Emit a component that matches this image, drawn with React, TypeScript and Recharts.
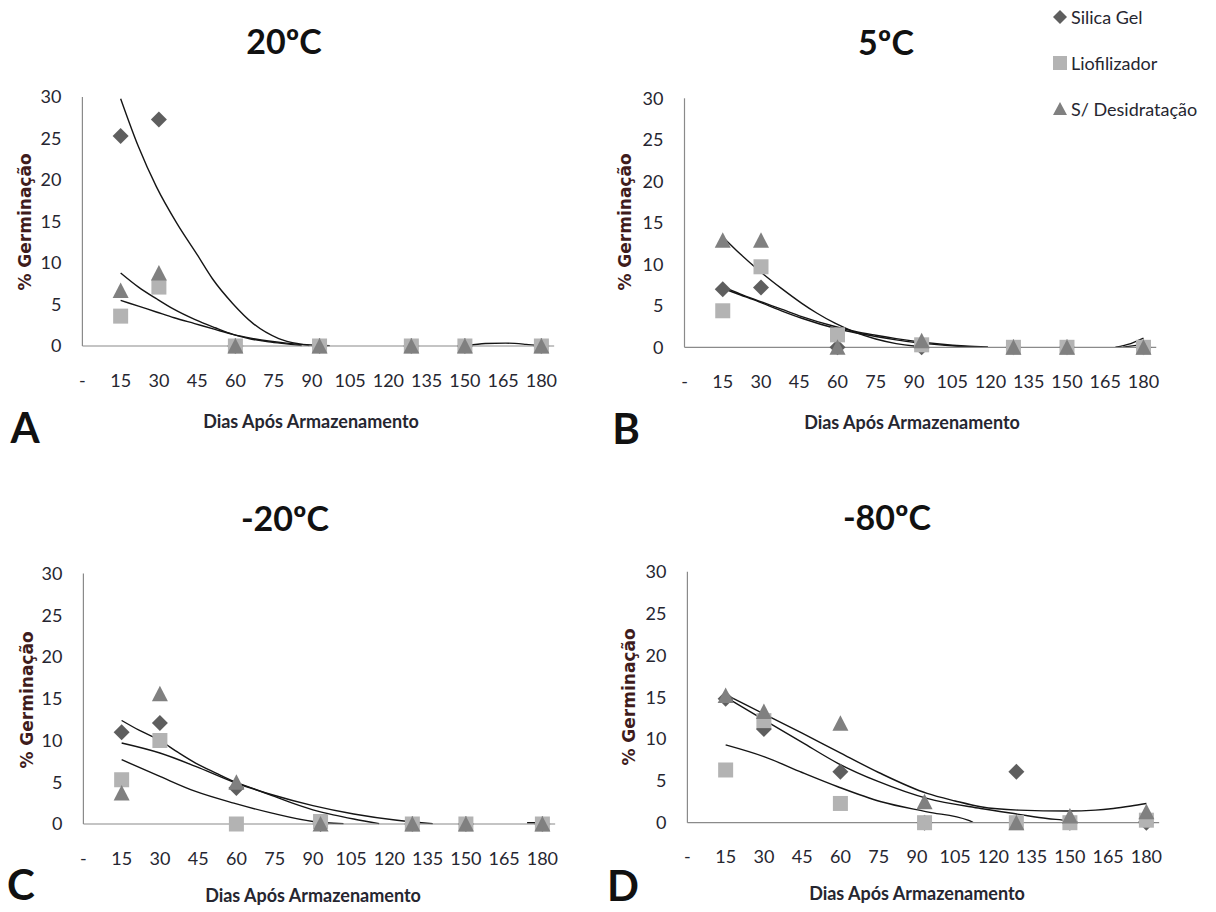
import React from 'react';
import { ComposedChart, Scatter, Line, XAxis, YAxis, Legend } from 'recharts';

// days after storage where germination was measured
const days = [15, 30, 60, 93, 129, 150, 180];
const xTicks = [0, 15, 30, 45, 60, 75, 90, 105, 120, 135, 150, 165, 180];
const yTicks = [0, 5, 10, 15, 20, 25, 30];
const seriesNames = ['Silica Gel', 'Liofilizador', 'S/ Desidratação'];

// A - 20ºC
const siA = [25.3, 27.3, 0, 0, 0, 0, 0];
const liA = [3.6, 7.1, 0, 0, 0, 0, 0];
const sdA = [6.7, 8.8, 0, 0, 0, 0, 0];
const trendDaysA_si = [15, 22, 29, 37, 45, 51, 59, 67, 77, 85, 89, 120, 151, 158, 166, 174, 179];
const trendA_si = [29.8, 24.0, 19.2, 14.8, 11.0, 8.1, 5.1, 2.7, 0.9, 0.25, 0.05, null, 0.05, 0.3, 0.35, 0.2, 0.05];
const trendDaysA_li = [15, 22, 29, 36, 44, 52, 59, 66, 73, 80, 88, 97];
const trendA_li = [5.5, 4.8, 4.1, 3.4, 2.7, 2.0, 1.4, 0.95, 0.6, 0.35, 0.15, 0.05];
const trendDaysA_sd = [15, 22, 29, 36, 44, 52, 59, 66, 73, 80, 86];
const trendA_sd = [8.8, 7.1, 5.7, 4.4, 3.2, 2.2, 1.4, 0.85, 0.5, 0.25, 0.05];

// B - 5ºC
const siB = [7.0, 7.2, 0, 0, 0, 0, 0];
const liB = [4.4, 9.7, 1.5, 0.3, 0, 0, 0];
const sdB = [12.9, 12.9, 0, 0.8, 0, 0, 0];
const trendDaysB_si = [15, 22, 29, 38, 46, 59, 67, 75, 83, 90, 98, 106, 113, 140, 172, 180];
const trendB_si = [7.1, 6.3, 5.5, 4.4, 3.5, 2.3, 1.75, 1.3, 0.9, 0.6, 0.35, 0.15, 0.03, null, 0.02, 0.35];
const trendDaysB_li = [15, 22, 29, 38, 46, 59, 67, 75, 83, 90, 100, 110, 119, 145, 169, 175, 180];
const trendB_li = [7.3, 6.4, 5.6, 4.6, 3.7, 2.5, 1.9, 1.45, 1.05, 0.75, 0.4, 0.15, 0.03, null, 0.02, 0.45, 1.1];
const trendDaysB_sd = [15, 22, 29, 38, 46, 52, 59, 67, 75, 83, 90, 95];
const trendB_sd = [13.3, 11.2, 9.3, 7.1, 5.3, 4.1, 2.9, 1.8, 1.0, 0.45, 0.15, 0.02];

// C - -20ºC
const siC = [11.0, 12.1, 4.3, 0, 0, 0, 0];
const liC = [5.3, 10.0, 0, 0.3, 0, 0, 0];
const sdC = [3.7, 15.6, 5.0, 0, 0, 0, 0];
const trendDaysC_si = [15, 30, 44, 59, 74, 90, 106, 123, 137];
const trendC_si = [9.7, 8.5, 6.9, 5.0, 3.5, 2.2, 1.2, 0.45, 0.05];
const trendDaysC_li = [15, 30, 44, 59, 74, 90, 102, 140, 174, 181];
const trendC_li = [7.7, 5.7, 3.9, 2.5, 1.3, 0.3, 0.05, null, 0.15, 0.15];
const trendDaysC_sd = [15, 22, 30, 37, 44, 52, 59, 67, 74, 82, 90, 98, 106, 116];
const trendC_sd = [12.4, 11.2, 10.0, 8.6, 7.3, 6.1, 5.1, 4.2, 3.4, 2.5, 1.7, 1.1, 0.6, 0.05];

// D - -80ºC
const siD = [14.8, 11.2, 6.1, 0, 6.1, 0, 0];
const liD = [6.3, 12.2, 2.3, 0, 0, 0, 0.3];
const sdD = [15.2, 13.3, 11.9, 2.5, 0, 0.8, 1.3];
const trendDaysD_si = [15, 30, 45, 59, 75, 94, 105, 115, 130, 149, 160, 167, 174, 180];
const trendD_si = [15.3, 13.0, 10.7, 8.5, 6.0, 3.5, 2.6, 1.9, 1.5, 1.4, 1.5, 1.7, 2.0, 2.3];
const trendDaysD_li = [15, 30, 45, 59, 76, 94, 110, 112, 150, 177, 180];
const trendD_li = [9.3, 7.9, 6.0, 4.3, 2.5, 1.3, 0.3, 0.05, null, 0.05, 0.7];
const trendDaysD_sd = [15, 30, 45, 59, 75, 94, 115, 130, 141, 149, 153];
const trendD_sd = [15.0, 12.3, 9.6, 7.1, 4.9, 2.9, 1.7, 1.0, 0.5, 0.25, 0.05];

const FONT = "Lato, 'Open Sans', sans-serif";
const TEXT = '#262630';
const AXIS = '#8a8a8a';
const C_DIAMOND = '#5e5e5e';
const C_SQUARE = '#b3b3b3';
const C_TRIANGLE = '#808080';

const toPoints = (xs: number[], ys: (number | null)[]) => xs.map((x, i) => ({ x, y: ys[i] }));

const DiamondShape = (p: any) => (
  <polygon points={`${p.cx},${p.cy - 8} ${p.cx + 8},${p.cy} ${p.cx},${p.cy + 8} ${p.cx - 8},${p.cy}`} fill={C_DIAMOND} />
);
const SquareShape = (p: any) => <rect x={p.cx - 7.5} y={p.cy - 7.5} width={15} height={15} fill={C_SQUARE} />;
const TriangleShape = (p: any) => (
  <polygon points={`${p.cx},${p.cy - 8} ${p.cx + 8},${p.cy + 7.5} ${p.cx - 8},${p.cy + 7.5}`} fill={C_TRIANGLE} />
);

const legendIcon = (type: string) => {
  if (type === 'diamond') return <polygon points="7,0 14,7 7,14 0,7" fill={C_DIAMOND} />;
  if (type === 'square') return <rect x={0} y={0} width={14} height={14} fill={C_SQUARE} />;
  return <polygon points="7,0 14,13 0,13" fill={C_TRIANGLE} />;
};

const LegendBox = (props: any) => {
  const items = (props.payload || [])
    .filter((e: any) => e.type !== 'none')
    .sort((a: any, b: any) => seriesNames.indexOf(a.value) - seriesNames.indexOf(b.value));
  return (
    <div style={{ fontFamily: FONT, fontSize: 18, color: TEXT }}>
      {items.map((e: any) => (
        <div key={e.value} style={{ display: 'flex', alignItems: 'center', height: 46, whiteSpace: 'nowrap' }}>
          <svg width={15} height={14} style={{ marginRight: 3 }}>{legendIcon(e.type)}</svg>
          <span>{e.value}</span>
        </div>
      ))}
    </div>
  );
};

type Panel = {
  letter: string;
  title: string;
  left: number;
  top: number;
  width: number;
  margin: { top: number; right: number; bottom: number; left: number };
  si: number[];
  li: number[];
  sd: number[];
  trends: { x: number; y: number | null }[][];
  titlePos: [number, number];
  letterPos: [number, number];
  xTitlePos: [number, number];
  yTitlePos: [number, number];
  legend?: boolean;
};

const panels: Panel[] = [
  {
    letter: 'A', title: '20ºC', left: 0, top: 0, width: 600,
    margin: { top: 97, right: 45.85, bottom: 60, left: 22.4 },
    si: siA, li: liA, sd: sdA,
    trends: [toPoints(trendDaysA_si, trendA_si), toPoints(trendDaysA_li, trendA_li), toPoints(trendDaysA_sd, trendA_sd)],
    titlePos: [284, 41], letterPos: [25, 427], xTitlePos: [311, 421], yTitlePos: [25, 222],
  },
  {
    letter: 'B', title: '5ºC', left: 600, top: 0, width: 616,
    margin: { top: 98.3, right: 59.75, bottom: 58.7, left: 24.5 },
    si: siB, li: liB, sd: sdB,
    trends: [toPoints(trendDaysB_si, trendB_si), toPoints(trendDaysB_li, trendB_li), toPoints(trendDaysB_sd, trendB_sd)],
    titlePos: [886, 42], letterPos: [626, 428], xTitlePos: [912, 422], yTitlePos: [625, 222],
    legend: true,
  },
  {
    letter: 'C', title: '-20ºC', left: 0, top: 456, width: 600,
    margin: { top: 117.5, right: 44.85, bottom: 38, left: 23.4 },
    si: siC, li: liC, sd: sdC,
    trends: [toPoints(trendDaysC_si, trendC_si), toPoints(trendDaysC_li, trendC_li), toPoints(trendDaysC_sd, trendC_sd)],
    titlePos: [285, 518], letterPos: [21, 884], xTitlePos: [313, 895], yTitlePos: [27, 700],
  },
  {
    letter: 'D', title: '-80ºC', left: 600, top: 456, width: 616,
    margin: { top: 115.7, right: 56.85, bottom: 39.3, left: 27.4 },
    si: siD, li: liD, sd: sdD,
    trends: [toPoints(trendDaysD_si, trendD_si), toPoints(trendDaysD_li, trendD_li), toPoints(trendDaysD_sd, trendD_sd)],
    titlePos: [887, 517], letterPos: [623, 885], xTitlePos: [917, 893], yTitlePos: [629, 697],
  },
];

const abs = (x: number, y: number, extra: React.CSSProperties = {}): React.CSSProperties => ({
  position: 'absolute',
  left: x,
  top: y,
  transform: 'translate(-50%, -50%)',
  lineHeight: 1,
  whiteSpace: 'nowrap',
  ...extra,
});

const GerminationPanel = ({ p }: { p: Panel }) => (
  <>
    <div style={{ position: 'absolute', left: p.left, top: p.top }}>
      <ComposedChart width={p.width} height={456} margin={p.margin}>
        <XAxis
          type="number"
          dataKey="x"
          domain={[0, 185]}
          ticks={xTicks}
          interval={0}
          height={50}
          tickLine={false}
          tickSize={0}
          tickMargin={28}
          tickFormatter={(v: number) => (v === 0 ? '-' : String(v))}
          tick={{ fontSize: 18, fill: TEXT, fontFamily: FONT }}
          axisLine={{ stroke: AXIS, strokeWidth: 1.2 }}
        />
        <YAxis
          type="number"
          dataKey="y"
          domain={[0, 30]}
          ticks={yTicks}
          interval={0}
          width={60}
          tickLine={false}
          tickSize={0}
          tickMargin={21}
          tick={{ fontSize: 18, fill: TEXT, fontFamily: FONT }}
          axisLine={{ stroke: AXIS, strokeWidth: 1.2 }}
        />
        <Scatter name={seriesNames[0]} data={toPoints(days, p.si)} shape={DiamondShape} legendType="diamond" fill={C_DIAMOND} isAnimationActive={false} />
        <Scatter name={seriesNames[1]} data={toPoints(days, p.li)} shape={SquareShape} legendType="square" fill={C_SQUARE} isAnimationActive={false} />
        <Scatter name={seriesNames[2]} data={toPoints(days, p.sd)} shape={TriangleShape} legendType="triangle" fill={C_TRIANGLE} isAnimationActive={false} />
        {p.trends.map((t, i) => (
          <Line
            key={i}
            data={t}
            dataKey="y"
            type="monotone"
            stroke="#151515"
            strokeWidth={1.4}
            dot={false}
            activeDot={false}
            legendType="none"
            connectNulls={false}
            isAnimationActive={false}
          />
        ))}
        {p.legend && (
          <Legend
            layout="vertical"
            align="center"
            verticalAlign="middle"
            wrapperStyle={{ left: 453, top: -6, width: 165 }}
            content={LegendBox}
          />
        )}
      </ComposedChart>
    </div>
    <div style={abs(p.titlePos[0], p.titlePos[1], { fontFamily: FONT, fontWeight: 700, fontSize: 34, color: '#111' })}>{p.title}</div>
    <div style={abs(p.letterPos[0], p.letterPos[1], { fontFamily: FONT, fontWeight: 700, fontSize: 42, color: '#111' })}>{p.letter}</div>
    <div style={abs(p.xTitlePos[0], p.xTitlePos[1], { fontFamily: FONT, fontWeight: 700, fontSize: 18, color: TEXT })}>
      Dias Após Armazenamento
    </div>
    <div
      style={abs(p.yTitlePos[0], p.yTitlePos[1], {
        fontFamily: "'DejaVu Sans', sans-serif",
        fontWeight: 700,
        fontSize: 17,
        color: '#3f1c1c',
        transform: 'translate(-50%, -50%) rotate(-90deg)',
      })}
    >
      % Germinação
    </div>
  </>
);

export default function App() {
  return (
    <div style={{ position: 'relative', width: 1216, height: 912, background: '#fff', overflow: 'hidden' }}>
      <style>{'body{margin:0}'}</style>
      {panels.map(p => (
        <GerminationPanel key={p.letter} p={p} />
      ))}
    </div>
  );
}
